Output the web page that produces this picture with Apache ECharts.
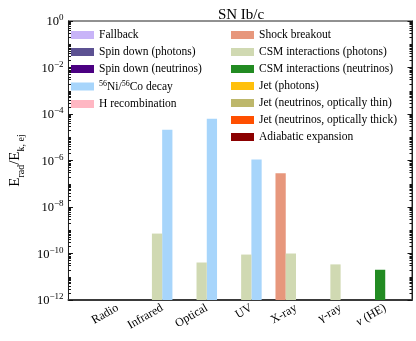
<!DOCTYPE html>
<html>
<head>
<meta charset="utf-8">
<script src="https://cdn.jsdelivr.net/npm/echarts@6/dist/echarts.min.js"></script>
<style>
  html, body { margin: 0; padding: 0; background: #fff; }
  #chart { width: 416px; height: 341px; }
</style>
</head>
<body>
<div id="chart"></div>
<script>
// bands on the x axis
var categories = ["Radio", "Infrared", "Optical", "UV", "X-ray", "γ-ray", "ν (HE)"];

// E_rad / E_k,ej per band (null = no bar)
var fallback        = [null, null, null, null, null, null, null];
var spinPhotons     = [null, null, null, null, null, null, null];
var spinNeutrinos   = [null, null, null, null, null, null, null];
var niCoDecay       = [null, 2.1e-5, 6.2e-5, 1.1e-6, null, null, null];
var hRecombination  = [null, null, null, null, null, null, null];
var shockBreakout   = [null, null, null, null, 2.8e-7, null, null];
var csmPhotons      = [null, 7.2e-10, 4.1e-11, 9.0e-11, 1.0e-10, 3.4e-11, null];
var csmNeutrinos    = [null, null, null, null, null, null, 2.0e-11];
var jetPhotons      = [null, null, null, null, null, null, null];
var jetNuThin       = [null, null, null, null, null, null, null];
var jetNuThick      = [null, null, null, null, null, null, null];
var adiabatic       = [null, null, null, null, null, null, null];

// y tick labels (exponents of ten)
var yTickValues = [1e-12, 1e-10, 1e-8, 1e-6, 1e-4, 1e-2, 1];
var yMin = 1e-12, yMax = 1;

var FONT = "Liberation Serif";

// minor ticks: every decade and 2..9 inside
var yMinorTicks = [];
for (var e = -12; e < 0; e++) {
  for (var m = 1; m <= 9; m++) {
    var t = m * Math.pow(10, e);
    if (m === 1 && e % 2 === 0) continue;
    yMinorTicks.push(t);
  }
}

var barW = 0.23; // in category units

function makeSeries(name, values, color, slot) {
  var data = [];
  values.forEach(function (v, i) {
    if (v != null) data.push([i, v]);
  });
  return {
    name: name,
    type: "custom",
    itemStyle: { color: color },
    encode: { x: 0, y: 1 },
    data: data,
    renderItem: function (params, api) {
      var xi = api.value(0);
      var top = api.coord([xi, api.value(1)]);
      var base = api.coord([xi, yMin]);
      var unit = api.coord([xi + 1, api.value(1)])[0] - top[0];
      var w = unit * barW;
      return {
        type: "rect",
        shape: { x: top[0] + slot * w, y: top[1], width: w, height: base[1] - top[1] },
        style: { fill: color }
      };
    }
  };
}

var seriesList = [
  makeSeries("Fallback", fallback, "#c8b4f8", 0),
  makeSeries("Spin down (photons)", spinPhotons, "#5c5192", 0),
  makeSeries("Spin down (neutrinos)", spinNeutrinos, "#4b0082", 0),
  makeSeries("Ni", niCoDecay, "#a7d5fb", 0),
  makeSeries("H recombination", hRecombination, "#ffb7c3", 0),
  makeSeries("Shock breakout", shockBreakout, "#e7977c", -2),
  makeSeries("CSM interactions (photons)", csmPhotons, "#d0d9b2", -1),
  makeSeries("CSM interactions (neutrinos)", csmNeutrinos, "#228b22", -1),
  makeSeries("Jet (photons)", jetPhotons, "#ffc00b", 0),
  makeSeries("Jet (neutrinos, optically thin)", jetNuThin, "#bdb76b", 0),
  makeSeries("Jet (neutrinos, optically thick)", jetNuThick, "#ff4f00", 0),
  makeSeries("Adiabatic expansion", adiabatic, "#8b0000", 0)
];

var legendText = {
  fontFamily: FONT, fontSize: 11.5, color: "#000",
  rich: {
    sup: { fontFamily: FONT, fontSize: 8, padding: [0, 0, 5, 0], verticalAlign: "bottom" },
    t: { fontFamily: FONT, fontSize: 11.5, verticalAlign: "bottom" }
  }
};

function legendFmt(name) {
  if (name === "Ni") return "{sup|56}{t|Ni/}{sup|56}{t|Co decay}";
  return name;
}

var axisTextRich = {
  b: { fontFamily: FONT, fontSize: 12.5, color: "#000", verticalAlign: "bottom" },
  s: { fontFamily: FONT, fontSize: 9, color: "#000", padding: [0, 0, 6, 0], verticalAlign: "bottom" }
};

function yLogAxis(pos, isMajor, withLabels) {
  return {
    type: "log",
    logBase: 10,
    min: yMin,
    max: yMax,
    position: pos,
    // ticks only get drawn when the axis line is on
    axisLine: { show: true, onZero: false, lineStyle: { color: "#222", width: 1 } },
    axisTick: {
      show: true,
      inside: true,
      length: isMajor ? 4.5 : 2.5,
      lineStyle: { color: "#111", width: 1 },
      customValues: isMajor ? yTickValues : yMinorTicks
    },
    axisLabel: {
      show: withLabels,
      margin: 5,
      customValues: yTickValues,
      formatter: function (v) {
        var ex = Math.round(Math.log10(v));
        return "{b|10}{s|" + (ex < 0 ? "\u2212" + (-ex) : ex) + "}";
      },
      rich: axisTextRich
    },
    splitLine: { show: false },
    minorTick: { show: false }
  };
}

var yAxes = [
  yLogAxis("left", true, true),
  yLogAxis("left", false, false),
  yLogAxis("right", true, false),
  yLogAxis("right", false, false)
];
yAxes[0].name = "{b|E}{sub|rad}{b|/E}{sub|k, ej}";
yAxes[0].nameLocation = "middle";
yAxes[0].nameGap = 32;
yAxes[0].nameTextStyle = {
  rich: {
    b: { fontFamily: FONT, fontSize: 15, color: "#000", verticalAlign: "top" },
    sub: { fontFamily: FONT, fontSize: 10, color: "#000", padding: [8, 0, 0, 0], verticalAlign: "top" }
  }
};

var chart = echarts.init(document.getElementById("chart"), null, { renderer: "canvas" });

var option = {
  animation: false,
  backgroundColor: "#fff",
  title: {
    text: "SN Ib/c",
    left: 236,
    top: 3,
    textAlign: "center",
    textStyle: { fontFamily: FONT, fontSize: 15, fontWeight: "normal", color: "#000" }
  },
  legend: [
    {
      data: seriesList.slice(0, 5).map(function (s) { return s.name; }),
      orient: "vertical",
      left: 71,
      top: 29,
      padding: 0,
      itemGap: 5,
      itemWidth: 23,
      itemHeight: 8,
      icon: "rect",
      formatter: legendFmt,
      textStyle: legendText
    },
    {
      data: seriesList.slice(5).map(function (s) { return s.name; }),
      orient: "vertical",
      left: 231,
      top: 29,
      padding: 0,
      itemGap: 5,
      itemWidth: 23,
      itemHeight: 8,
      icon: "rect",
      formatter: legendFmt,
      textStyle: legendText
    }
  ],
  grid: {
    left: 60,
    right: 4,
    top: 21,
    bottom: 41,
    show: true,
    borderColor: "#222",
    borderWidth: 1,
    backgroundColor: "transparent"
  },
  xAxis: {
    type: "value",
    min: -1.1,
    max: 6.6,
    axisLine: { show: true, onZero: false, lineStyle: { color: "#3a3a3a", width: 2 } },
    axisTick: { show: false },
    splitLine: { show: false },
    axisLabel: {
      customValues: categories.map(function (c, i) { return i; }),
      rotate: 30,
      margin: 7,
      fontFamily: FONT,
      fontSize: 12,
      color: "#000",
      formatter: function (v) {
        var c = categories[Math.round(v)];
        if (c.charAt(0) === "ν") return "{i|ν}" + c.slice(1);
        return c;
      },
      rich: { i: { fontFamily: FONT, fontSize: 12, fontStyle: "italic", color: "#000" } }
    }
  },
  yAxis: yAxes,
  series: seriesList
};

chart.setOption(option);
</script>
</body>
</html>
